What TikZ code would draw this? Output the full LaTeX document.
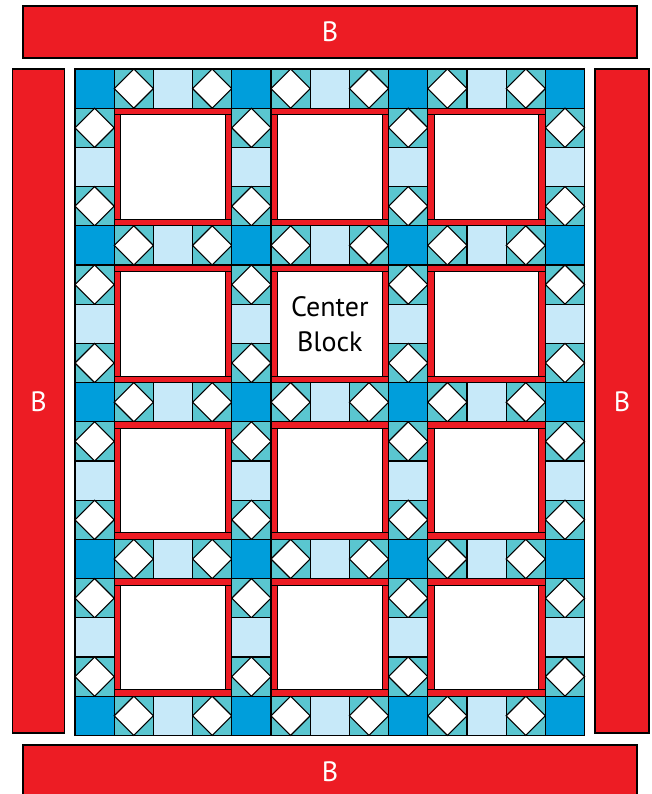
\documentclass[tikz,border=0pt]{standalone}
\usepackage{fontspec}
\setmainfont{PT Sans}
\definecolor{quiltred}{RGB}{237,28,36}
\definecolor{cornerblue}{RGB}{0,158,219}
\definecolor{sashteal}{RGB}{90,198,208}
\definecolor{sashlight}{RGB}{199,233,249}
\newcommand{\cellsize}{39.2}
\newcommand{\diamondcell}[2]{%
  \draw[fill=sashteal] (#1,#2) rectangle ++(\cellsize,\cellsize);
  \draw[fill=white] (#1,#2+\cellsize/2) -- (#1+\cellsize/2,#2) -- (#1+\cellsize,#2+\cellsize/2) -- (#1+\cellsize/2,#2+\cellsize) -- cycle;}
\tikzset{
  border/.style={draw, fill=quiltred},
  blabel/.style={text=white, font=\fontsize{28}{34}\selectfont},
  frame/.style={draw, fill=quiltred}
}
\begin{document}
\begin{tikzpicture}[x=1pt, y=-1pt, line width=1.1pt]
\useasboundingbox (0,0) rectangle (652,794);
\clip (0,0) rectangle (652,794);
% borders
\draw[border] (23,6) rectangle (637,58);
\draw[border] (12.5,69) rectangle (64.5,733);
\draw[border] (595,69) rectangle (649,733);
\draw[border] (23,745) rectangle (637,800);
\node[blabel] (btop) at (330,32) {B};
\node[blabel] (bleft) at (38.5,402) {B};
\node[blabel] (bright) at (622,402) {B};
\node[blabel] (bbottom) at (330,772) {B};
% sashing and cornerstones
\foreach \i in {0,...,12}{
  \foreach \j in {0,...,16}{
    \pgfmathtruncatemacro\ci{mod(\i,4)}
    \pgfmathtruncatemacro\cj{mod(\j,4)}
    \pgfmathsetmacro\px{75+\i*\cellsize}
    \pgfmathsetmacro\py{69+\j*\cellsize}
    \ifnum\ci=0
      \ifnum\cj=0
        \draw[fill=cornerblue] (\px,\py) rectangle ++(\cellsize,\cellsize);
      \else\ifnum\cj=2
        \draw[fill=sashlight] (\px,\py) rectangle ++(\cellsize,\cellsize);
      \else
        \diamondcell{\px}{\py}
      \fi\fi
    \else
      \ifnum\cj=0
        \ifnum\ci=2
          \draw[fill=sashlight] (\px,\py) rectangle ++(\cellsize,\cellsize);
        \else
          \diamondcell{\px}{\py}
        \fi
      \fi
    \fi
  }
}
% blocks with red frames
\foreach \bi in {0,1,2}{
  \foreach \bj in {0,...,3}{
    \pgfmathsetmacro\bx{75+(4*\bi+1)*\cellsize}
    \pgfmathsetmacro\by{69+(4*\bj+1)*\cellsize}
    \pgfmathsetmacro\bs{3*\cellsize}
    \draw[fill=white] (\bx,\by) rectangle ++(\bs,\bs);
    \draw[frame] (\bx,\by) rectangle ++(\bs,6.5);
    \draw[frame] (\bx,\by+\bs-6.5) rectangle ++(\bs,6.5);
    \draw[frame] (\bx,\by+6.5) rectangle ++(6.5,\bs-13);
    \draw[frame] (\bx+\bs-6.5,\by+6.5) rectangle ++(6.5,\bs-13);
  }
}
\node[align=center, font=\fontsize{28}{35}\selectfont] (center) at (75+6.5*\cellsize,69+6.5*\cellsize) {Center\\Block};
\end{tikzpicture}
\end{document}
